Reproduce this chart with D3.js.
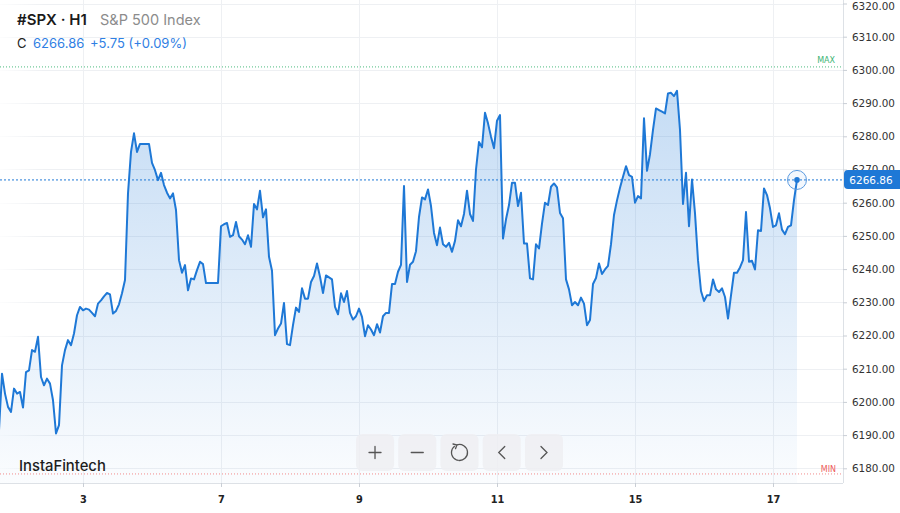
<!DOCTYPE html>
<html><head><meta charset="utf-8">
<script src="https://cdn.jsdelivr.net/npm/d3@7"></script>
<style>html,body{margin:0;padding:0;background:#fff;overflow:hidden}</style>
</head><body>
<svg id="c" width="900" height="513"></svg>
<script>
// ---- data ----
const symbolName = "#SPX · H1";
const indexName = "S&P 500 Index";
const lastClose = 6266.86;
const changeAbs = 5.75;
const changePct = 0.09;
const dayLabels = ["2", "3", "7", "9", "11", "15", "17"];
const seg2 = [6191.5,6208.5,6202.5,6198.5,6197.0,6204.0,6202.5,6203.0,6198.3,6209.0,6209.5,6215.6,6215.1,6219.6,6207.5,6205.0,6207.0,6205.5,6200.5,6190.5,6193.0,6211.0,6215.6,6218.6,6217.1,6220.6,6226.1,6228.6];
const seg3 = [6227.6,6228.1,6227.8,6226.8,6225.8,6229.6,6230.6,6231.8,6232.8,6232.4,6226.6,6227.4,6229.4,6232.7,6236.7,6262.8,6275.3,6280.9,6275.3,6277.7,6277.7,6277.7,6277.7,6272.0,6269.8,6266.8,6269.0,6265.3,6263.0,6261.3,6262.8,6257.8,6242.7,6238.9,6241.2,6233.6,6237.2,6236.9,6239.7,6242.2,6241.5,6235.8,6235.8,6235.8,6235.8,6235.8];
const seg7 = [6252.9,6253.5,6253.9,6249.7,6250.2,6254.2,6249.9,6248.9,6247.5,6250.2,6246.7,6259.6,6258.0,6263.6,6255.6,6258.0,6243.7,6239.5,6220.1,6222.1,6223.6,6229.8,6217.4,6217.1,6223.1,6228.4,6227.1,6234.2,6231.1,6231.1,6236.1,6237.9,6241.7,6237.7,6232.8,6238.1,6237.5,6236.9,6228.6,6226.4,6232.7,6230.1,6233.4,6226.8,6224.8,6225.8];
const seg9 = [6228.1,6225.6,6219.8,6223.1,6221.8,6220.1,6223.4,6220.9,6225.8,6226.8,6226.8,6235.5,6235.5,6239.2,6241.3,6265.0,6236.1,6241.3,6242.2,6245.4,6255.7,6261.6,6261.0,6264.0,6259.0,6250.9,6247.2,6252.5,6247.5,6246.7,6247.9,6245.2,6248.5,6254.7,6252.9,6256.6,6263.6,6256.6,6254.5,6270.0,6278.3,6276.7,6287.1,6283.9,6279.9,6276.4];
const seg11 = [6284.7,6286.4,6249.2,6255.0,6259.3,6266.0,6266.0,6259.0,6263.0,6247.7,6247.7,6237.2,6236.9,6247.5,6246.2,6253.7,6260.0,6259.3,6264.8,6265.8,6264.6,6256.9,6255.3,6236.9,6233.9,6229.1,6230.1,6229.1,6231.4,6229.6,6223.1,6224.7,6235.5,6237.3,6241.7,6238.5,6239.9,6241.0,6247.5,6256.3,6260.7,6264.5,6267.8,6271.0,6268.3,6267.8];
const seg15 = [6260.0,6262.0,6261.3,6285.4,6269.6,6274.6,6281.9,6288.4,6287.9,6287.4,6286.9,6292.9,6293.1,6292.1,6293.7,6281.9,6259.6,6269.0,6252.9,6267.0,6256.8,6242.7,6233.4,6230.4,6232.1,6232.1,6236.9,6233.9,6233.1,6234.2,6231.6,6225.1,6232.1,6238.9,6238.9,6240.5,6242.7,6257.2,6242.2,6242.5,6239.9,6251.7,6251.5,6264.3,6262.3,6258.3];
const seg17 = [6252.7,6253.2,6256.8,6251.9,6250.5,6252.7,6253.2,6260.8,6266.86];
const daySegments = [seg2, seg3, seg7, seg9, seg11, seg15, seg17];
const yTickValues = [6180, 6190, 6200, 6210, 6220, 6230, 6240, 6250, 6260, 6270, 6280, 6290, 6300, 6310, 6320];
const maxLevel = 6300.9;
const minLevel = 6178.3;

// ---- layout ----
const plotR = 843, plotB = 483;
const closes = [].concat(...daySegments);
const dayStart = [];
daySegments.reduce((acc, s) => { dayStart.push(acc); return acc + s.length; }, 0);

const svg = d3.select("#c");
const defs = svg.append("defs");
const x = d3.scaleLinear().domain([0, closes.length - 1]).range([-1, 797]);
const y = d3.scaleLinear().domain([6180, 6320]).range([468.3, 3.5]);

defs.append("clipPath").attr("id", "clip").append("rect")
  .attr("x", 0).attr("y", 0).attr("width", plotR).attr("height", plotB);
const g1 = defs.append("linearGradient").attr("id", "fillG")
  .attr("gradientUnits", "userSpaceOnUse").attr("x1", 0).attr("x2", 0).attr("y1", 90).attr("y2", plotB);
g1.append("stop").attr("offset", 0).attr("stop-color", "#1e78d6").attr("stop-opacity", 0.26);
g1.append("stop").attr("offset", 1).attr("stop-color", "#1e78d6").attr("stop-opacity", 0.02);
const g2 = defs.append("linearGradient").attr("id", "fadeL").attr("x1", 0).attr("x2", 1).attr("y1", 0).attr("y2", 0);
g2.append("stop").attr("offset", 0).attr("stop-color", "#fff").attr("stop-opacity", 0.85);
g2.append("stop").attr("offset", 1).attr("stop-color", "#fff").attr("stop-opacity", 0);

// grid
const grid = svg.append("g");
grid.selectAll("line.h").data(yTickValues).join("line")
  .attr("x1", 0).attr("x2", plotR).attr("y1", d => Math.round(y(d)) + 0.5).attr("y2", d => Math.round(y(d)) + 0.5)
  .attr("stroke", "#eef0f3").attr("stroke-width", 1);
const tickIdx = dayStart.slice(1);
const tickLab = dayLabels.slice(1);
grid.selectAll("line.v").data(tickIdx).join("line")
  .attr("x1", d => Math.round(x(d)) + 0.5).attr("x2", d => Math.round(x(d)) + 0.5)
  .attr("y1", 0).attr("y2", plotB)
  .attr("stroke", "#eef0f3").attr("stroke-width", 1);
svg.append("rect").attr("x", 0).attr("y", 0).attr("width", 45).attr("height", plotB).attr("fill", "url(#fadeL)");

// area + line
const plot = svg.append("g").attr("clip-path", "url(#clip)");
plot.append("path").datum(closes)
  .attr("d", d3.area().x((d, i) => x(i)).y0(plotB).y1(d => y(d)))
  .attr("fill", "url(#fillG)");
plot.append("path").datum(closes)
  .attr("d", d3.line().x((d, i) => x(i)).y(d => y(d)))
  .attr("fill", "none").attr("stroke", "#1e78d6").attr("stroke-width", 2)
  .attr("stroke-linejoin", "round");

// max / min / last lines
svg.append("line").attr("x1", 0).attr("x2", plotR).attr("y1", y(maxLevel)).attr("y2", y(maxLevel))
  .attr("stroke", "#4cbb7f").attr("stroke-width", 1).attr("stroke-dasharray", "1,2");
svg.append("text").attr("x", 835).attr("y", y(maxLevel) - 3.5).attr("text-anchor", "end")
  .attr("font-family", "DejaVu Sans").attr("font-size", 8).attr("fill", "#3db374").text("MAX");
svg.append("line").attr("x1", 0).attr("x2", plotR).attr("y1", y(minLevel)).attr("y2", y(minLevel))
  .attr("stroke", "#f28b8b").attr("stroke-width", 1).attr("stroke-dasharray", "1,2");
svg.append("text").attr("x", 836).attr("y", y(minLevel) - 1.5).attr("text-anchor", "end")
  .attr("font-family", "DejaVu Sans").attr("font-size", 8).attr("fill", "#ee5b5b").text("MIN");
svg.append("line").attr("x1", 0).attr("x2", plotR).attr("y1", y(lastClose)).attr("y2", y(lastClose))
  .attr("stroke", "#1e78d6").attr("stroke-width", 1).attr("stroke-dasharray", "2,2");

// frame
svg.append("line").attr("x1", plotR + 0.5).attr("x2", plotR + 0.5).attr("y1", 0).attr("y2", plotB)
  .attr("stroke", "#dde1e6");
svg.append("line").attr("x1", 0).attr("x2", plotR).attr("y1", plotB + 0.5).attr("y2", plotB + 0.5)
  .attr("stroke", "#dde1e6");

// y axis
const ya = svg.append("g").attr("transform", `translate(${plotR},0)`)
  .call(d3.axisRight(y).tickValues(yTickValues).tickFormat(d3.format(".2f")).tickSize(4).tickPadding(5));
ya.select(".domain").remove();
ya.selectAll(".tick line").attr("stroke", "#c9ced5");
ya.selectAll("text").attr("font-family", "DejaVu Sans").attr("font-size", 10.4).attr("fill", "#333")
  .attr("dy", d => y(d) < 6 ? "0.62em" : "0.32em");

// x axis
const xa = svg.append("g").attr("transform", `translate(0,${plotB})`)
  .call(d3.axisBottom(x).tickValues(tickIdx).tickFormat((d, i) => tickLab[i]).tickSize(4).tickPadding(9));
xa.select(".domain").remove();
xa.selectAll(".tick line").attr("stroke", "#c9ced5");
xa.selectAll("text").attr("font-family", "DejaVu Sans").attr("font-weight", "bold").attr("font-size", 9.8).attr("fill", "#222");

// last point marker
const lx = x(closes.length - 1), ly = y(lastClose);
svg.append("circle").attr("cx", lx).attr("cy", ly).attr("r", 9.5)
  .attr("fill", "rgba(30,120,214,0.06)").attr("stroke", "#5b9be0").attr("stroke-width", 1);
svg.append("circle").attr("cx", lx).attr("cy", ly).attr("r", 2.8).attr("fill", "#1e78d6");

// price tag
svg.append("rect").attr("x", plotR + 1).attr("y", ly - 10).attr("width", 60).attr("height", 19).attr("rx", 4)
  .attr("fill", "#1e78d6");
svg.append("text").attr("x", 871).attr("y", ly).attr("dy", "0.35em").attr("text-anchor", "middle")
  .attr("font-family", "DejaVu Sans").attr("font-size", 10.5).attr("fill", "#fff").text(d3.format(".2f")(lastClose));

// header
const hdr = svg.append("g").attr("font-family", "Inter");
hdr.append("text").attr("x", 17).attr("y", 25).attr("font-size", 15).attr("font-weight", 600).attr("fill", "#1a1a1a").text(symbolName);
hdr.append("text").attr("x", 100).attr("y", 25).attr("font-size", 14.5).attr("fill", "#8c8c8c").text(indexName);
hdr.append("text").attr("x", 17).attr("y", 48).attr("font-size", 13).attr("fill", "#222").text("C");
hdr.append("text").attr("x", 33).attr("y", 48).attr("font-size", 13).attr("fill", "#2f80e4").text(d3.format(".2f")(lastClose));
hdr.append("text").attr("x", 90).attr("y", 48).attr("font-size", 13).attr("fill", "#2f80e4")
  .text(`+${changeAbs.toFixed(2)} (+${changePct.toFixed(2)}%)`);

// brand
svg.append("text").attr("x", 19).attr("y", 470.5).attr("font-family", "Inter").attr("font-size", 14.8)
  .attr("font-weight", 500).attr("fill", "#1d1d1d").text("InstaFintech");

// buttons
const btns = ["plus", "minus", "reset", "left", "right"];
const bx = d3.scaleBand().domain(btns).range([356, 563]).paddingInner(0.1);
const bg = svg.append("g");
const b = bg.selectAll("g").data(btns).join("g")
  .attr("transform", d => `translate(${bx(d)},434)`);
b.append("rect").attr("width", bx.bandwidth()).attr("height", 37).attr("rx", 6)
  .attr("fill", "#eeeff2").attr("fill-opacity", 0.85);
const icon = b.append("g").attr("transform", `translate(${bx.bandwidth() / 2},18.5)`)
  .attr("fill", "none").attr("stroke", "#555").attr("stroke-width", 1.3).attr("stroke-linecap", "round");
icon.filter(d => d === "plus").append("path").attr("d", "M-6,0H6M0,-6V6");
icon.filter(d => d === "minus").append("path").attr("d", "M-6,0H6");
const r = icon.filter(d => d === "reset");
r.append("path").attr("d", d3.arc()({innerRadius: 8, outerRadius: 8, startAngle: -0.35, endAngle: 3.3}));
r.append("path").attr("d", d3.arc()({innerRadius: 8, outerRadius: 8, startAngle: 3.3, endAngle: 5.6}))
  .attr("stroke-dasharray", "2,2");
r.append("path").attr("d", "M-6.5,-8.5L-2.6,-7.5L-4,-3.8");
icon.filter(d => d === "left").append("path").attr("d", "M3,-6L-3,0L3,6");
icon.filter(d => d === "right").append("path").attr("d", "M-3,-6L3,0L-3,6");
</script>
</body></html>
